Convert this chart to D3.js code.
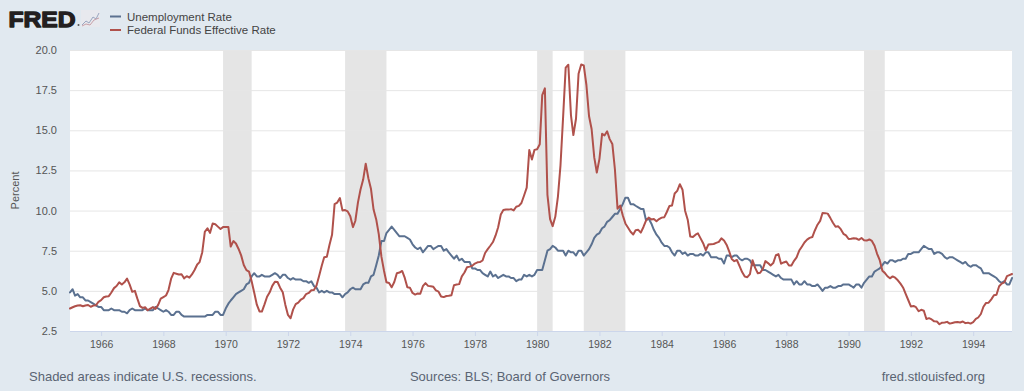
<!DOCTYPE html>
<html>
<head>
<meta charset="utf-8">
<script src="https://cdn.jsdelivr.net/npm/d3@7"></script>
<style>
  html, body { margin: 0; padding: 0; background: #e1e9f0; }
  svg { display: block; font-family: "Liberation Sans", Arial, sans-serif; }
</style>
</head>
<body>
<svg id="chart" width="1024" height="391"></svg>
<script>
// ---- Data (monthly, starting January 1965) ----
const startYear = 1965;
const unemploymentRate = [
  4.9,5.1,4.7,4.8,4.6,4.6,4.4,4.4,4.3,4.2,4.1,4.0,
  4.0,3.8,3.8,3.8,3.9,3.8,3.8,3.8,3.7,3.7,3.6,3.8,
  3.9,3.8,3.8,3.8,3.8,3.9,3.8,3.8,3.8,4.0,3.9,3.8,
  3.7,3.8,3.7,3.5,3.5,3.7,3.7,3.5,3.4,3.4,3.4,3.4,
  3.4,3.4,3.4,3.4,3.4,3.5,3.5,3.5,3.7,3.7,3.5,3.5,
  3.9,4.2,4.4,4.6,4.8,4.9,5.0,5.1,5.4,5.5,5.9,6.1,
  5.9,5.9,6.0,5.9,5.9,5.9,6.0,6.1,6.0,5.8,6.0,6.0,
  5.8,5.7,5.8,5.7,5.7,5.7,5.6,5.6,5.5,5.6,5.3,5.2,
  4.9,5.0,4.9,5.0,4.9,4.9,4.8,4.8,4.8,4.6,4.8,4.9,
  5.1,5.2,5.1,5.1,5.1,5.4,5.5,5.5,5.9,6.0,6.6,7.2,
  8.1,8.1,8.6,8.8,9.0,8.8,8.6,8.4,8.4,8.4,8.3,8.2,
  7.9,7.7,7.6,7.7,7.4,7.6,7.8,7.8,7.6,7.7,7.8,7.8,
  7.5,7.6,7.4,7.2,7.0,7.2,6.9,7.0,6.8,6.8,6.8,6.4,
  6.4,6.3,6.3,6.1,6.0,5.9,6.2,5.9,6.0,5.8,5.9,6.0,
  5.9,5.9,5.8,5.8,5.6,5.7,5.7,6.0,5.9,6.0,5.9,6.0,
  6.3,6.3,6.3,6.9,7.5,7.6,7.8,7.7,7.5,7.5,7.5,7.2,
  7.5,7.4,7.4,7.2,7.5,7.5,7.2,7.4,7.6,7.9,8.3,8.5,
  8.6,8.9,9.0,9.3,9.4,9.6,9.8,9.8,10.1,10.4,10.8,10.8,
  10.4,10.4,10.3,10.2,10.1,10.1,9.4,9.5,9.2,8.8,8.5,8.3,
  8.0,7.8,7.8,7.7,7.4,7.2,7.5,7.5,7.3,7.4,7.2,7.3,
  7.3,7.2,7.2,7.3,7.2,7.4,7.4,7.1,7.1,7.1,7.0,7.0,
  6.7,7.2,7.2,7.1,7.2,7.2,7.0,6.9,7.0,7.0,6.9,6.6,
  6.6,6.6,6.6,6.3,6.3,6.2,6.1,6.0,5.9,6.0,5.8,5.7,
  5.7,5.7,5.7,5.4,5.6,5.4,5.4,5.6,5.4,5.4,5.3,5.3,
  5.4,5.2,5.0,5.2,5.2,5.3,5.2,5.2,5.3,5.3,5.4,5.4,
  5.4,5.3,5.2,5.4,5.4,5.2,5.5,5.7,5.9,5.9,6.2,6.3,
  6.4,6.6,6.8,6.7,6.9,6.9,6.8,6.9,6.9,7.0,7.0,7.3,
  7.3,7.4,7.4,7.4,7.6,7.8,7.7,7.6,7.6,7.3,7.4,7.4,
  7.3,7.1,7.0,7.1,7.1,7.0,6.9,6.8,6.7,6.8,6.6,6.5,
  6.6,6.6,6.5,6.4,6.1,6.1,6.1,6.0,5.9,5.8,5.6,5.5,
  5.6,5.4,5.4,5.8
];
const fedFundsRate = [
  3.90,3.98,4.04,4.09,4.10,4.04,4.09,4.12,4.01,4.08,4.10,4.32,
  4.42,4.60,4.65,4.67,4.90,5.17,5.30,5.53,5.40,5.53,5.76,5.40,
  4.94,5.00,4.53,4.05,3.94,3.98,3.79,3.90,3.99,3.88,4.13,4.51,
  4.61,4.71,5.05,5.76,6.12,6.07,6.02,6.03,5.78,5.91,5.82,6.02,
  6.30,6.64,6.79,7.41,8.67,8.90,8.61,9.19,9.15,9.00,8.85,8.97,
  8.98,8.98,7.76,8.10,7.95,7.61,7.21,6.61,6.29,6.20,5.60,4.90,
  4.14,3.72,3.71,4.16,4.63,4.91,5.31,5.57,5.55,5.20,4.91,4.14,
  3.50,3.29,3.83,4.17,4.27,4.46,4.55,4.80,4.87,5.04,5.06,5.33,
  5.94,6.58,7.09,7.12,7.84,8.49,10.40,10.50,10.78,10.01,10.03,9.95,
  9.65,8.97,9.35,10.51,11.31,11.93,12.92,12.01,11.34,10.06,9.45,8.53,
  7.13,6.24,5.54,5.49,5.22,5.55,6.10,6.14,6.24,5.82,5.22,5.20,
  4.87,4.77,4.84,4.82,5.29,5.48,5.31,5.29,5.25,5.03,4.95,4.65,
  4.61,4.68,4.69,4.73,5.35,5.39,5.42,5.90,6.14,6.47,6.51,6.56,
  6.70,6.78,6.79,6.89,7.36,7.60,7.81,8.04,8.45,8.96,9.76,10.03,
  10.07,10.06,10.09,10.01,10.24,10.29,10.47,10.94,11.43,13.77,13.18,13.78,
  13.82,14.13,17.19,17.61,10.98,9.47,9.03,9.61,10.87,12.81,15.85,18.90,
  19.08,15.93,14.70,15.72,18.52,19.10,19.04,17.82,15.87,15.08,13.31,12.37,
  13.22,14.78,14.68,14.94,14.45,14.15,12.59,10.12,10.31,9.71,9.20,8.95,
  8.68,8.51,8.77,8.80,8.63,8.98,9.37,9.56,9.45,9.48,9.34,9.47,
  9.56,9.59,9.91,10.29,10.32,11.06,11.23,11.64,11.30,9.99,9.43,8.38,
  8.35,8.50,8.58,8.27,7.97,7.53,7.88,7.90,7.92,7.99,8.05,8.27,
  8.14,7.86,7.48,6.99,6.85,6.92,6.56,6.17,5.89,5.85,6.04,6.91,
  6.43,6.10,6.13,6.37,6.85,6.73,6.58,6.73,7.22,7.29,6.69,6.77,
  6.83,6.58,6.58,6.87,7.09,7.51,7.75,8.01,8.19,8.30,8.35,8.76,
  9.12,9.36,9.85,9.84,9.81,9.53,9.24,8.99,9.02,8.84,8.55,8.45,
  8.23,8.24,8.28,8.26,8.18,8.29,8.15,8.13,8.20,8.11,7.81,7.31,
  6.91,6.25,6.12,5.91,5.78,5.90,5.82,5.66,5.45,5.21,4.81,4.43,
  4.03,4.06,3.98,3.73,3.82,3.76,3.25,3.30,3.22,3.10,3.09,2.92,
  3.02,3.03,3.07,2.96,3.00,3.04,3.06,3.03,3.09,2.99,3.02,2.96,
  3.05,3.25,3.34,3.56,4.01,4.25,4.26,4.47,4.73,4.76,5.29,5.45,
  5.53,5.92,5.98,6.05
];
const recessionStarts = ["1969-12-01","1973-11-01","1980-01-01","1981-07-01","1990-07-01"];
const recessionEnds   = ["1970-11-01","1975-03-01","1980-07-01","1982-11-01","1991-03-01"];
const yTickValues = [2.5, 5.0, 7.5, 10.0, 12.5, 15.0, 17.5, 20.0];
const xTickYears = [1966,1968,1970,1972,1974,1976,1978,1980,1982,1984,1986,1988,1990,1992,1994];
const seriesNames = ["Unemployment Rate", "Federal Funds Effective Rate"];
const seriesColors = ["#5b7190", "#b0514b"];

// ---- Layout ----
const W = 1024, H = 391;
const plot = { left: 70, top: 50, right: 1012, bottom: 331 };
const svg = d3.select("#chart");
const parse = d3.utcParse("%Y-%m-%d");
const monthDate = i => new Date(Date.UTC(startYear, i, 1));

svg.append("rect").attr("width", W).attr("height", H).attr("fill", "#e1e9f0");

const x = d3.scaleUtc()
  .domain([monthDate(0), monthDate(unemploymentRate.length - 1)])
  .range([plot.left, plot.right]);
const y = d3.scaleLinear().domain([2.5, 20]).range([plot.bottom, plot.top]);

// plot background
svg.append("rect")
  .attr("x", plot.left).attr("y", plot.top)
  .attr("width", plot.right - plot.left).attr("height", plot.bottom - plot.top)
  .attr("fill", "#ffffff");

// recessions
svg.append("g").selectAll("rect")
  .data(recessionStarts.map((s, i) => [parse(s), parse(recessionEnds[i])]))
  .join("rect")
  .attr("x", d => x(d[0]))
  .attr("width", d => x(d[1]) - x(d[0]))
  .attr("y", plot.top).attr("height", plot.bottom - plot.top)
  .attr("fill", "#e5e5e5");

// y grid + labels
const yAxis = d3.axisLeft(y).tickValues(yTickValues).tickFormat(d3.format(".1f"))
  .tickSize(-(plot.right - plot.left)).tickPadding(13);
const gy = svg.append("g").attr("transform", `translate(${plot.left},0)`).call(yAxis);
gy.select(".domain").remove();
gy.selectAll(".tick line").attr("stroke", "#e6e6e6").attr("stroke-width", 1);
gy.selectAll(".tick").filter(d => d === 2.5).select("line").attr("stroke", "#ccd6eb");
gy.selectAll(".tick text").attr("fill", "#555").attr("font-size", 11)
  .attr("font-family", "'Liberation Sans', Arial, sans-serif");

// x axis
const xAxis = d3.axisBottom(x)
  .tickValues(xTickYears.map(yy => new Date(Date.UTC(yy, 0, 1))))
  .tickFormat(d3.utcFormat("%Y")).tickSize(5).tickPadding(5);
const gx = svg.append("g").attr("transform", `translate(0,${plot.bottom})`).call(xAxis);
gx.select(".domain").attr("stroke", "#ccd6eb").attr("d", `M${plot.left},0.5H${plot.right}`);
gx.selectAll(".tick line").attr("stroke", "#ccd6eb");
gx.selectAll(".tick text").attr("fill", "#555").attr("font-size", 10.5)
  .attr("font-family", "'Liberation Sans', Arial, sans-serif");

// y title
svg.append("text")
  .attr("transform", `translate(19,${(plot.top + plot.bottom) / 2}) rotate(-90)`)
  .attr("text-anchor", "middle").attr("font-size", 11).attr("fill", "#555")
  .text("Percent");

// lines
const line = d3.line().x((d, i) => x(monthDate(i))).y(d => y(d)).curve(d3.curveLinear);
[unemploymentRate, fedFundsRate].forEach((s, k) => {
  svg.append("path").datum(s)
    .attr("d", line)
    .attr("fill", "none")
    .attr("stroke", seriesColors[k])
    .attr("stroke-width", 2)
    .attr("stroke-linejoin", "round")
    .attr("stroke-linecap", "round");
});

// FRED logo
svg.append("text").attr("x", 8.5).attr("y", 26.5)
  .attr("font-size", 22).attr("font-weight", 700).attr("fill", "#231f20")
  .attr("stroke", "#231f20").attr("stroke-width", 1.3).attr("stroke-linejoin", "round")
  .attr("textLength", 67).attr("lengthAdjust", "spacingAndGlyphs")
  .style("font-family", "'Liberation Sans', Arial, sans-serif")
  .text("FRED");
svg.append("circle").attr("cx", 78.5).attr("cy", 25).attr("r", 1).attr("fill", "#555");
const icon = svg.append("g").attr("transform", "translate(81,10)");
icon.append("rect").attr("width", 19).attr("height", 17).attr("fill", "#e8e9ee");
icon.append("path").attr("d", "M1,15 L5,11 L8,13 L12,7 L15,9 L18,3")
  .attr("fill", "none").attr("stroke", "#9aa6c0").attr("stroke-width", 1);
icon.append("path").attr("d", "M1,16 L5,14 L9,15 L13,10 L18,8")
  .attr("fill", "none").attr("stroke", "#c8a0a8").attr("stroke-width", 1);

// legend
const legend = svg.append("g");
seriesNames.forEach((name, k) => {
  const cy = 16.5 + k * 13.5;
  legend.append("line").attr("x1", 110).attr("x2", 121).attr("y1", cy).attr("y2", cy)
    .attr("stroke", seriesColors[k]).attr("stroke-width", 2);
  legend.append("text").attr("x", 127).attr("y", cy + 4)
    .attr("font-size", 11.5).attr("fill", "#444").text(name);
});

// footer
const foot = svg.append("g").attr("font-size", 13).attr("fill", "#5a6473");
foot.append("text").attr("x", 29).attr("y", 381).text("Shaded areas indicate U.S. recessions.");
foot.append("text").attr("x", 510).attr("y", 381).attr("text-anchor", "middle").text("Sources: BLS; Board of Governors");
foot.append("text").attr("x", 985).attr("y", 381).attr("text-anchor", "end").text("fred.stlouisfed.org");
</script>
</body>
</html>
